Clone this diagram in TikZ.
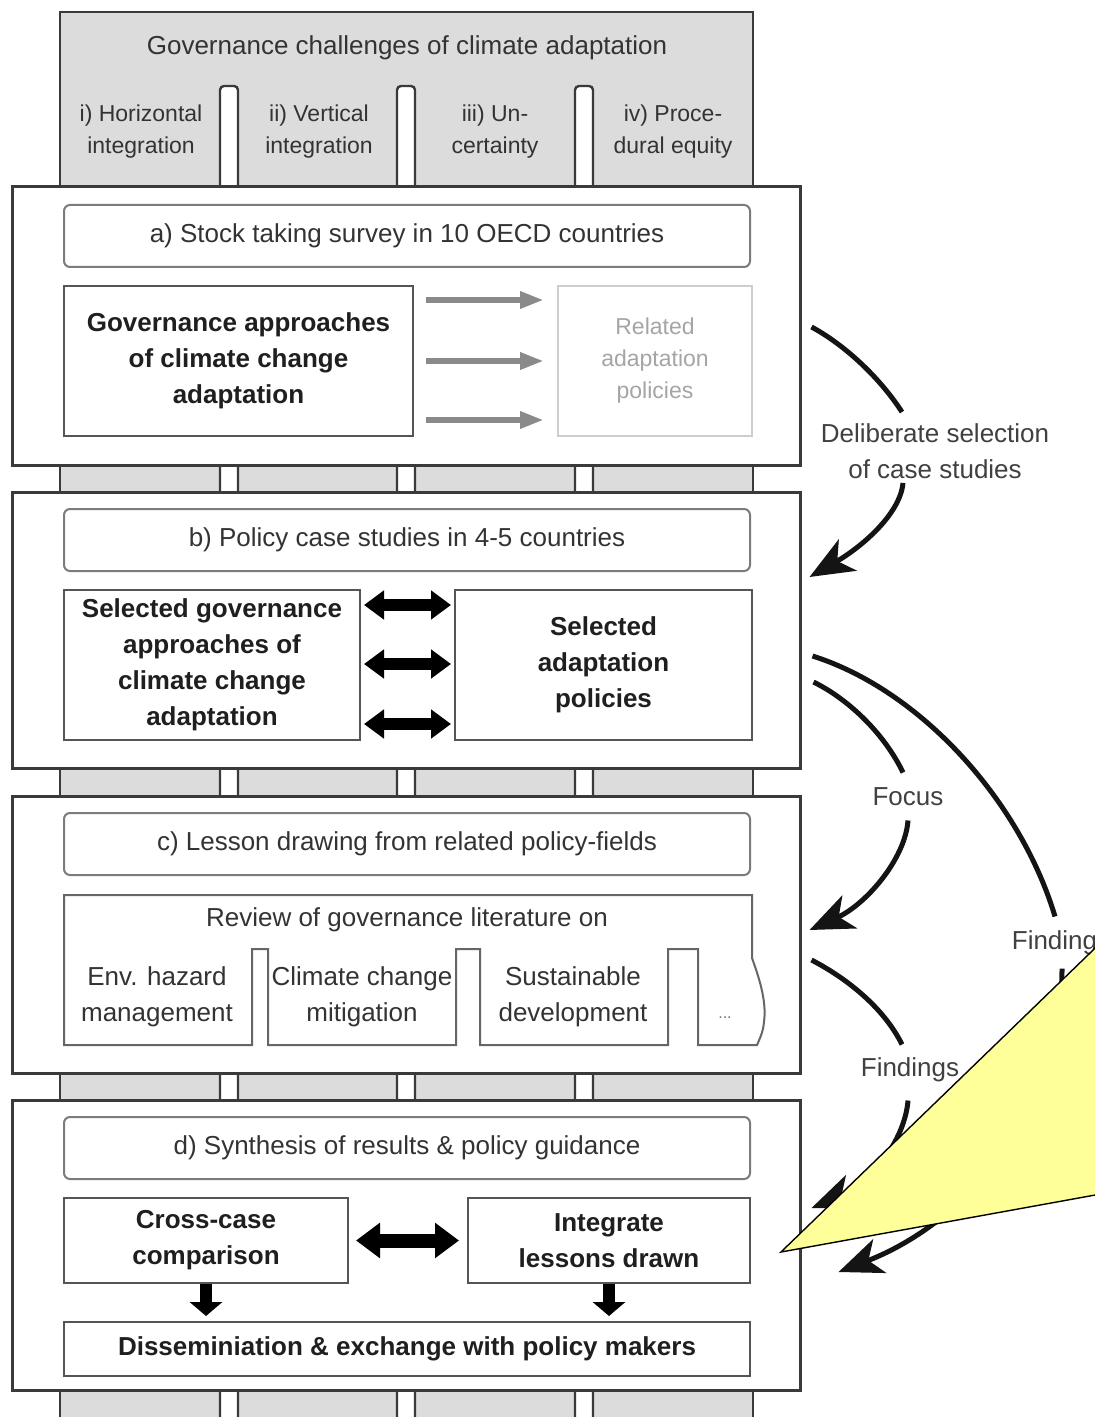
\documentclass[tikz,border=0pt]{standalone}
\usepackage{fontspec}
\setmainfont{Liberation Sans}
\usetikzlibrary{arrows.meta}
\definecolor{colgray}{HTML}{DCDCDC}
\definecolor{edgec}{HTML}{3A3A3A}
\definecolor{boxedge}{HTML}{555555}
\definecolor{hdredge}{HTML}{7C7C7C}
\definecolor{txtc}{HTML}{333333}
\definecolor{lightedge}{HTML}{CDCDCD}
\definecolor{lighttxt}{HTML}{A5A5A5}
\definecolor{grayarrow}{HTML}{8A8A8A}
\definecolor{calloutc}{HTML}{FFFF99}
\newcommand\myfontA{\fontsize{13}{18}\selectfont}
\newcommand\myfontB{\fontsize{11.5}{16}\selectfont}
\tikzset{
 panel/.style={draw=edgec, line width=1.5pt, fill=white, minimum width=394pt, inner sep=0pt},
 header/.style={draw=hdredge, line width=1pt, rounded corners=3pt, fill=white, minimum width=343pt, minimum height=31pt, inner sep=0pt, font=\myfontA, text=txtc},
 boldbox/.style={draw=boxedge, line width=1pt, fill=white, inner sep=0pt, align=center, font=\myfontA\bfseries, text=black!88},
 lightbox/.style={draw=lightedge, line width=1pt, fill=white, inner sep=0pt, align=center, font=\myfontB, text=lighttxt},
 collabel/.style={align=center, font=\myfontB, text=txtc, inner sep=0pt},
 plaintext/.style={align=center, font=\myfontA, text=txtc, inner sep=0pt},
 sidelabel/.style={align=center, font=\myfontA, text=black!75, inner sep=0pt},
 strip/.style={fill=white, draw=edgec, line width=1.2pt, rounded corners=2pt},
 grayarr/.style={draw=grayarrow, line width=3pt, -{Triangle[length=12pt,width=8pt]}},
 dblarr/.style={draw=black, line width=6pt, {Triangle[length=10pt,width=14pt]}-{Triangle[length=10pt,width=14pt]}},
 dblarrD/.style={draw=black, line width=7pt, {Triangle[length=12pt,width=17pt]}-{Triangle[length=12pt,width=17pt]}},
 downarr/.style={draw=black, line width=6pt, -{Triangle[length=7pt,width=16pt]}},
 curvy/.style={draw=black!92, line width=2.5pt},
 curvyarr/.style={curvy, -{Stealth[length=22pt,width=18pt,inset=6pt]}},
}
\begin{document}
\begin{tikzpicture}[x=0.5pt,y=-0.5pt]
\useasboundingbox (0,0) rectangle (1095,1417);
\clip (0,0) rectangle (1095,1417);
\fill[white] (0,0) rectangle (1095,1417);
% background columns
\draw[fill=colgray, draw=edgec, line width=1.2pt] (60,12) rectangle (753,1440);
\draw[strip] (220,86) rectangle (238,1440);
\draw[strip] (397,86) rectangle (415,1440);
\draw[strip] (575,86) rectangle (593,1440);
\node[plaintext] (title) at (407,48) {Governance challenges of climate adaptation};
\node[collabel] (c1) at (141,132) {i) Horizontal\\integration};
\node[collabel] (c2) at (319,132) {ii) Vertical\\integration};
\node[collabel] (c3) at (495,132) {iii) Un-\\certainty};
\node[collabel] (c4) at (673,132) {iv) Proce-\\dural equity};
% panels
\node[panel, minimum height=139pt] (pa) at (406,326) {};
\node[panel, minimum height=138pt] (pb) at (406,630) {};
\node[panel, minimum height=138.5pt] (pc) at (406,934.5) {};
\node[panel, minimum height=145pt] (pd) at (406,1245) {};
% headers
\node[header] (ha) at (407,236) {a) Stock taking survey in 10 OECD countries};
\node[header] (hb) at (407,540) {b) Policy case studies in 4-5 countries};
\node[header] (hc) at (407,844) {c) Lesson drawing from related policy-fields};
\node[header] (hd) at (407,1148) {d) Synthesis of results \& policy guidance};
% panel a
\node[boldbox, minimum width=174.5pt, minimum height=75pt] (ga) at (238.5,361) {Governance approaches\\of climate change\\adaptation};
\node[lightbox, minimum width=97pt, minimum height=75pt] (ra) at (655,361) {Related\\adaptation\\policies};
\draw[grayarr, shorten <=6pt, shorten >=6.5pt] ([yshift=30.5pt]ga.east) -- ([yshift=30.5pt]ra.west);
\draw[grayarr, shorten <=6pt, shorten >=6.5pt] (ga.east) -- (ra.west);
\draw[grayarr, shorten <=6pt, shorten >=6.5pt] ([yshift=-29.5pt]ga.east) -- ([yshift=-29.5pt]ra.west);
% panel b
\node[boldbox, minimum width=148pt, minimum height=75pt] (gb) at (212,665) {Selected governance\\approaches of\\climate change\\adaptation};
\node[boldbox, minimum width=148.5pt, minimum height=75pt] (sb) at (603.5,665) {Selected\\adaptation\\policies};
\draw[dblarr, shorten <=1.5pt, shorten >=1.5pt] ([yshift=30pt]gb.east) -- ([yshift=30pt]sb.west);
\draw[dblarr, shorten <=1.5pt, shorten >=1.5pt] ([yshift=0.5pt]gb.east) -- ([yshift=0.5pt]sb.west);
\draw[dblarr, shorten <=1.5pt, shorten >=1.5pt] ([yshift=-29.5pt]gb.east) -- ([yshift=-29.5pt]sb.west);
% panel c
\draw[fill=white, draw=black!60, line width=1pt]
  (64,895) -- (752,895) -- (752,958)
  .. controls (758,975) and (767,1000) .. (764,1022)
  .. controls (763,1033) and (759,1040) .. (757,1045)
  -- (698,1045) -- (698,949) -- (668,949) -- (668,1045)
  -- (480,1045) -- (480,949) -- (456,949) -- (456,1045)
  -- (268,1045) -- (268,949) -- (252,949) -- (252,1045)
  -- (64,1045) -- cycle;
\node[plaintext] (rv) at (407,920) {Review of governance literature on};
\node[plaintext] (r1) at (157,997) {Env. hazard\\management};
\node[plaintext] (r2) at (362,997) {Climate change\\mitigation};
\node[plaintext] (r3) at (573,997) {Sustainable\\development};
\node[plaintext, font=\fontsize{8}{10}\selectfont, text=black!55] (r4) at (725,1018) {...};
% panel d
\node[boldbox, minimum width=142pt, minimum height=42.5pt] (cc) at (206,1240.5) {Cross-case\\comparison};
\node[boldbox, minimum width=141pt, minimum height=42.5pt] (il) at (609,1240.5) {Integrate\\lessons drawn};
\node[boldbox, minimum width=343pt, minimum height=27pt] (dm) at (407,1349) {Disseminiation \& exchange with policy makers};
\draw[dblarrD, shorten <=3.5pt, shorten >=4pt] (cc.east) -- (il.west);
\draw[downarr, shorten >=2.5pt] (cc.south) -- (cc.south |- dm.north);
\draw[downarr, shorten >=2.5pt] (il.south) -- (il.south |- dm.north);
% side labels
\node[sidelabel] (ld) at (935,451) {Deliberate selection\\of case studies};
\node[sidelabel] (lf) at (908,797) {Focus};
\node[sidelabel] (lF) at (910,1070) {Findings};
\node[sidelabel] (lG) at (1061,943) {Findings};
% curved connectors
\draw[curvy] ([shift={(5pt,-0.5pt)}]pa.east) .. controls (845,345) and (880,378) .. ([shift={(-16.5pt,5.5pt)}]ld.north);
\draw[curvyarr] ([shift={(-16pt,-2pt)}]ld.south) .. controls (900,515) and (860,548) .. ([shift={(4pt,26.5pt)}]pb.east);
\draw[curvy] ([shift={(6pt,-26pt)}]pb.east) .. controls (850,700) and (885,735) .. ([shift={(-2.5pt,7.5pt)}]lf.north);
\draw[curvyarr] ([shift={(0pt,-7pt)}]lf.south) .. controls (905,860) and (865,905) .. ([shift={(4pt,2.25pt)}]pc.east);
\draw[curvy] ([shift={(5.5pt,-13pt)}]pb.east) .. controls (920,690) and (1020,800) .. ([shift={(-3pt,7pt)}]lG.north);
\draw[curvyarr] ([shift={(0.5pt,-6.5pt)}]lG.south) .. controls (1062,1120) and (960,1225) .. ([shift={(18.5pt,-13.5pt)}]pd.east);
\draw[curvy] ([shift={(5pt,-12.75pt)}]pc.east) .. controls (850,980) and (885,1010) .. ([shift={(-4pt,6.5pt)}]lF.north);
\draw[curvyarr] ([shift={(-1pt,-9pt)}]lF.south) .. controls (905,1140) and (870,1185) .. ([shift={(5pt,18.5pt)}]pd.east);
% callout
\filldraw[fill=calloutc, draw=black, line width=0.7pt] (781,1252) -- (1120,924) -- (1120,1190.5) -- cycle;
\end{tikzpicture}
\end{document}
